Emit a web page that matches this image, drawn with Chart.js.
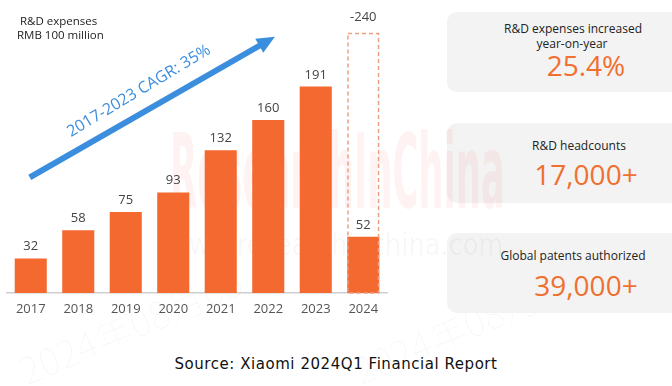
<!DOCTYPE html>
<html>
<head>
<meta charset="utf-8">
<script src="https://cdn.jsdelivr.net/npm/chart.js@4"></script>
<style>
    body { margin: 0; width: 672px; height: 386px; background: #fff; overflow: hidden; position: relative; font-family: "Open Sans", sans-serif; }
    .wm { position: absolute; white-space: nowrap; transform-origin: left top; }
    .wm1 { left: 170px; top: 112px; font: bold 104px "Liberation Sans Narrow", "DejaVu Sans Condensed", sans-serif; color: rgba(230, 50, 40, 0.06); line-height: 120px; }
    .wm2 { left: 168px; top: 228px; font: 30px "DejaVu Sans", sans-serif; color: rgba(0, 0, 0, 0.045); line-height: 34px; }
    .wm3 { font: 300 38px "Noto Sans CJK SC", sans-serif; line-height: 40px; color: rgba(0, 0, 0, 0.028); transform-origin: left bottom; transform: rotate(-23deg); }
    #wrap { position: absolute; left: 0; top: 0; width: 400px; height: 320px; }
    .titulo { position: absolute; left: 17px; top: 14px; font-size: 11.5px; line-height: 14px; color: #222; }
    .card { position: absolute; left: 447px; width: 240px; height: 80px; background: #f3f3f3; border-radius: 10px; }
    .txt { position: absolute; width: 200px; text-align: center; font-size: 12px; color: #222; line-height: 14px; }
    .big { position: absolute; width: 200px; text-align: center; font-size: 28px; font-weight: 500; color: #f07030; line-height: 30px; }
    .fonte { position: absolute; left: 0; width: 672px; top: 355px; text-align: center; font: 15px "DejaVu Sans", Verdana, sans-serif; letter-spacing: 0.55px; color: #111; }
</style>
</head>
<body>
<div class="wm wm3" style="left:28px; top:350px">2024年08月05</div>
<div class="wm wm3" style="left:362px; top:350px">2024年08月05</div>

<div class="card" style="top:12px"></div>
<div class="card" style="top:123px"></div>
<div class="card" style="top:233px"></div>

<div class="wm wm1" id="marca1">ResearchInChina</div>
<div class="wm wm2" id="marca2">www.researchinchina.com</div>

<div class="txt" style="left:473px; top:22px">R&amp;D expenses increased</div>
<div class="txt" style="left:472px; top:37px">year-on-year</div>
<div class="big" style="left:486px; top:50px">25.4%</div>
<div class="txt" style="left:479px; top:139px">R&amp;D headcounts</div>
<div class="big" style="left:486px; top:159px">17,000+</div>
<div class="txt" style="left:473px; top:249px">Global patents authorized</div>
<div class="big" style="left:486px; top:270px">39,000+</div>

<div id="wrap"><canvas id="graficoPD"></canvas></div>
<div class="titulo">&nbsp;R&amp;D expenses<br>RMB 100 million</div>
<div class="fonte">Source: Xiaomi 2024Q1 Financial Report</div>

<script>
// dados (RMB 100 million)
var anos = ['2017', '2018', '2019', '2020', '2021', '2022', '2023', '2024'];
var gastosPD = [32, 58, 75, 93, 132, 160, 191, 52];
var previsao2024 = [null, null, null, null, null, null, null, 240];
var rotulosPD = ['32', '58', '75', '93', '132', '160', '191', '52'];
var rotuloPrevisao = '-240';
var textoCagr = '2017-2023 CAGR: 35%';

var laranja = '#f4692f';
var azul = '#3b8ede';

// ajusta a largura das marcas d'agua
function ajustarMarca(id, largura) {
    var el = document.getElementById(id);
    el.style.transform = 'scaleX(' + (largura / el.offsetWidth) + ')';
}
ajustarMarca('marca1', 335);
ajustarMarca('marca2', 335);

// desenha caixa tracejada, rótulos e a seta do CAGR
var pluginExtras = {
    id: 'extras',
    afterDatasetsDraw: function (chart) {
        var ctx = chart.ctx;
        var xs = chart.scales.x, ys = chart.scales.y;

        // caixa tracejada da previsão
        var metaPrev = chart.getDatasetMeta(1);
        metaPrev.data.forEach(function (el, i) {
            if (previsao2024[i] == null) return;
            ctx.save();
            ctx.strokeStyle = '#ef9e80';
            ctx.lineWidth = 1.5;
            ctx.setLineDash([4, 3]);
            ctx.strokeRect(el.x - el.width / 2 + 0.75, el.y, el.width - 1.5, el.base - el.y);
            ctx.restore();
            ctx.save();
            ctx.fillStyle = '#444';
            ctx.font = '13px "Open Sans"';
            ctx.textAlign = 'center';
            ctx.fillText(rotuloPrevisao, el.x, el.y - 13);
            ctx.restore();
        });

        // rótulos das barras
        var meta = chart.getDatasetMeta(0);
        ctx.save();
        ctx.fillStyle = '#444';
        ctx.font = '13px "Open Sans"';
        ctx.textAlign = 'center';
        meta.data.forEach(function (el, i) {
            ctx.fillText(rotulosPD[i], el.x, el.y - 8);
        });
        ctx.restore();

        // seta do CAGR
        var x0 = xs.getPixelForValue(-0.02), y0 = ys.getPixelForValue(107);
        var x1 = xs.getPixelForValue(5.14), y1 = ys.getPixelForValue(237);
        var ang = Math.atan2(y1 - y0, x1 - x0);
        var cabeca = 18;
        ctx.save();
        ctx.strokeStyle = azul;
        ctx.fillStyle = azul;
        ctx.lineWidth = 6;
        ctx.beginPath();
        ctx.moveTo(x0, y0);
        ctx.lineTo(x1 - Math.cos(ang) * cabeca * 0.8, y1 - Math.sin(ang) * cabeca * 0.8);
        ctx.stroke();
        ctx.beginPath();
        ctx.moveTo(x1, y1);
        ctx.lineTo(x1 - Math.cos(ang) * cabeca + Math.sin(ang) * 8, y1 - Math.sin(ang) * cabeca - Math.cos(ang) * 8);
        ctx.lineTo(x1 - Math.cos(ang) * cabeca - Math.sin(ang) * 8, y1 - Math.sin(ang) * cabeca + Math.cos(ang) * 8);
        ctx.closePath();
        ctx.fill();

        // texto do CAGR
        var mx = (x0 + x1) / 2 - 6, my = (y0 + y1) / 2 - 3;
        ctx.translate(mx + Math.sin(ang) * 15, my - Math.cos(ang) * 15);
        ctx.rotate(ang - 0.02);
        ctx.font = '16px "Open Sans"';
        ctx.textAlign = 'center';
        ctx.textBaseline = 'middle';
        ctx.fillText(textoCagr, 0, 0);
        ctx.restore();
    }
};

var dadosPD = {
    labels: anos,
    datasets: [{
        label: 'R&D expenses',
        backgroundColor: laranja,
        data: gastosPD,
        categoryPercentage: 1,
        barPercentage: 0.675,
        grouped: false,
        order: 1
    }, {
        label: '2024E',
        backgroundColor: 'rgba(0,0,0,0)',
        borderWidth: 0,
        data: previsao2024,
        categoryPercentage: 1,
        barPercentage: 0.675,
        grouped: false,
        order: 2
    }]
};

var configPD = {
    type: 'bar',
    data: dadosPD,
    options: {
        responsive: true,
        maintainAspectRatio: false,
        animation: { duration: 0 },
        layout: { padding: { left: 7, right: 13, top: 12, bottom: 2 } },
        plugins: {
            legend: { display: false },
            tooltip: { enabled: false }
        },
        scales: {
            x: {
                grid: { display: false, drawTicks: false },
                border: { display: true, color: '#cfcfcf', width: 1.5 },
                ticks: { color: '#555', font: { family: 'Open Sans', size: 13, weight: '500' }, padding: 8 },
                afterFit: function (scale) { scale.height = 25; }
            },
            y: {
                display: false,
                min: 0,
                max: 260
            }
        }
    },
    plugins: [pluginExtras]
};

var graficoPD = new Chart(document.getElementById('graficoPD'), configPD);
</script>
</body>
</html>
